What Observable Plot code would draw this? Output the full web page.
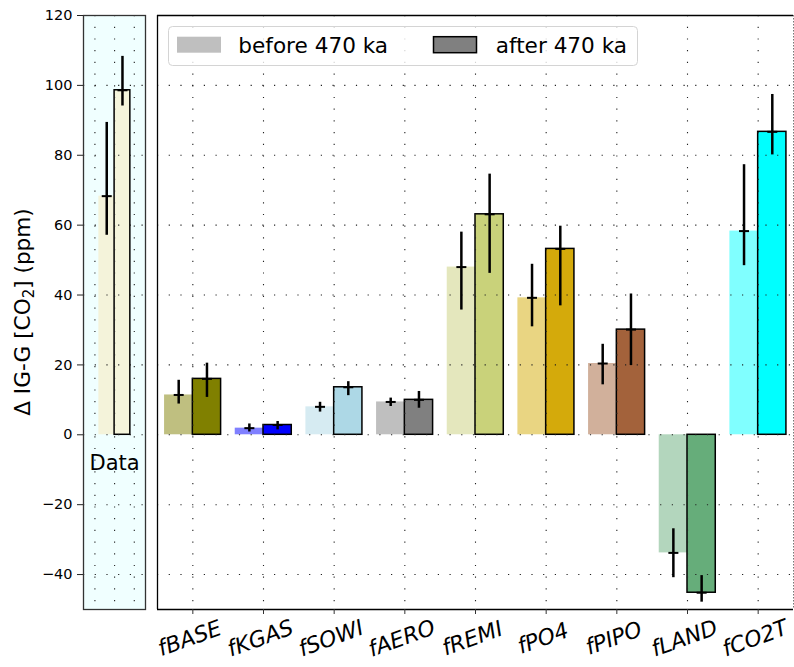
<!DOCTYPE html>
<html>
<head>
<meta charset="utf-8">
<script src="https://cdn.jsdelivr.net/npm/d3@7"></script>
<script src="https://cdn.jsdelivr.net/npm/@observablehq/plot@0.6"></script>
<style>
  html, body { margin: 0; padding: 0; background: #fff; }
  #chart { position: relative; width: 794px; height: 667px; font-family: "DejaVu Sans", sans-serif; }
  #chart svg { position: absolute; top: 0; }
</style>
</head>
<body>
<div id="chart"></div>
<script>
// Glacial-interglacial CO2 change: reconstructed data vs. model factor contributions
const factors = ["fBASE", "fKGAS", "fSOWI", "fAERO", "fREMI", "fPO4", "fPIPO", "fLAND", "fCO2T"];
const seriesNames = ["before 470 ka", "after 470 ka"];

const beforeValue = [11.4, 1.9, 8.0, 9.4, 48.0, 39.2, 20.4, -33.8, 58.3];
const beforeLow   = [8.8, 0.8, 6.5, 8.1, 35.7, 30.9, 14.3, -40.9, 48.4];
const beforeHigh  = [15.6, 3.1, 9.3, 10.5, 58.0, 48.8, 25.9, -26.9, 77.3];

const afterValue = [16.0, 2.8, 13.6, 10.0, 63.1, 53.2, 30.1, -45.2, 86.7];
const afterLow   = [10.7, 1.4, 11.2, 7.6, 46.2, 36.9, 19.8, -47.9, 80.1];
const afterHigh  = [20.5, 3.8, 15.2, 12.4, 74.6, 59.7, 40.3, -40.3, 97.4];

const beforeColors = ["#bfbf80", "#8080ff", "#d6ebf2", "#bfbfbf", "#e4e7bd", "#e9d582", "#d1b09b", "#b3d6bd", "#80ffff"];
const afterColors  = ["#808000", "#0000ff", "#add8e6", "#808080", "#c9d27a", "#d4aa0b", "#a3623b", "#66ad7a", "#00ffff"];

// Reconstructed (ice core) values
const dataLabel = "Data";
const dataValue = [68.3, 98.6];
const dataLow   = [57.1, 94.1];
const dataHigh  = [89.4, 108.3];
const dataColors = ["#f4f3da", "#f5f5dc"];

const yTicks = [-40, -20, 0, 20, 40, 60, 80, 100, 120];
const yDomain = [-50, 120];

const fmt = d => (d < 0 ? "\u2212" + Math.abs(d) : String(d));
const H = 667, MT = 15, MB = 58;
const gridStyle = {stroke: "#222", strokeOpacity: 1, strokeWidth: 1.1, strokeDasharray: "1.2,10.5"};

// horizontal mean marker drawn as a short line symbol
const hline = {
  draw(ctx, size) {
    const w = Math.sqrt(size / Math.PI);
    ctx.moveTo(-w, 0);
    ctx.lineTo(w, 0);
  }
};

// --- rows -------------------------------------------------------------
const rows = [];
factors.forEach((f, i) => {
  rows.push({i, pos: i - 0.2, value: beforeValue[i], lo: beforeLow[i], hi: beforeHigh[i], fill: beforeColors[i], edge: false});
  rows.push({i, pos: i + 0.2, value: afterValue[i], lo: afterLow[i], hi: afterHigh[i], fill: afterColors[i], edge: true});
});
const dataRows = dataValue.map((v, k) => ({pos: k === 0 ? -0.4 : 0.4, value: v, lo: dataLow[k], hi: dataHigh[k], fill: dataColors[k], edge: k === 1}));

// --- left panel: data --------------------------------------------------
const left = Plot.plot({
  width: 150, height: H,
  marginLeft: 83, marginRight: 5, marginTop: MT, marginBottom: MB,
  x: {domain: [-1.58, 1.57], axis: null},
  y: {domain: yDomain},
  style: {background: "transparent", fontFamily: "DejaVu Sans", fontSize: "14.5px", color: "#000", overflow: "visible"},
  marks: [
    Plot.frame({fill: "#f0ffff", stroke: null}),
    Plot.rect(dataRows, {x1: d => d.pos - 0.4, x2: d => d.pos + 0.4, y1: () => 0, y2: "value", fill: "fill",
      stroke: d => d.edge ? "#000" : "none", strokeWidth: 1.5}),
    Plot.gridX({ticks: [-1, 0, 1], ...gridStyle}),
    Plot.gridY({ticks: yTicks, ...gridStyle}),
    Plot.ruleX(dataRows, {x: "pos", y1: "lo", y2: "hi", stroke: "#000", strokeWidth: 2.5}),
    Plot.dot(dataRows, {x: "pos", y: "value", symbol: hline, r: 5, stroke: "#000", strokeWidth: 2, fill: "none"}),
    Plot.text([dataLabel], {x: () => 0, y: () => 0, dy: 28, fontSize: 21, fill: "#000"}),
    Plot.frame({stroke: "#333", strokeWidth: 1.3}),
    Plot.axisY({ticks: yTicks, tickFormat: fmt, tickSize: 6, tickPadding: 5, label: null, stroke: "#222"})
  ]
});

// y-axis title with subscript
const ly = d3.select(left).append("text")
  .attr("transform", `translate(30,${(MT + H - MB) / 2}) rotate(-90)`)
  .attr("text-anchor", "middle")
  .attr("font-size", 21.6)
  .attr("fill", "#000");
ly.append("tspan").text("\u0394 IG-G [CO");
ly.append("tspan").attr("font-size", 15).attr("dy", 4).text("2");
ly.append("tspan").attr("dy", -4).text("] (ppm)");

// --- right panel: model factors ---------------------------------------
const idx = factors.map((_, i) => i);
const right = Plot.plot({
  width: 644, height: H,
  marginLeft: 7, marginRight: 1, marginTop: MT, marginBottom: MB,
  x: {domain: [-0.5, factors.length - 0.5], axis: null},
  y: {domain: yDomain, axis: null},
  style: {background: "transparent", fontFamily: "DejaVu Sans", fontSize: "14.5px", color: "#000", overflow: "visible"},
  marks: [
    Plot.rect(rows, {x1: d => d.pos - 0.2, x2: d => d.pos + 0.2, y1: () => 0, y2: "value", fill: "fill",
      stroke: d => d.edge ? "#000" : "none", strokeWidth: 1.5}),
    Plot.gridX({ticks: idx, ...gridStyle}),
    Plot.gridY({ticks: yTicks, ...gridStyle}),
    Plot.ruleX(rows, {x: "pos", y1: "lo", y2: "hi", stroke: "#000", strokeWidth: 2.5}),
    Plot.dot(rows, {x: "pos", y: "value", symbol: hline, r: 5, stroke: "#000", strokeWidth: 2, fill: "none"}),
    Plot.ruleY([yDomain[1]], {stroke: "#000", strokeWidth: 1.3}),
    Plot.ruleY([yDomain[0]], {stroke: "#000", strokeWidth: 1.3}),
    Plot.ruleX([-0.5], {stroke: "#000", strokeWidth: 1.3}),
    Plot.ruleX([factors.length - 0.5], {stroke: "#777", strokeWidth: 1, strokeDasharray: "1.5,1.5"}),
    Plot.axisX({ticks: idx, tickFormat: () => "", tickSize: 5, stroke: "#333", label: null}),
    Plot.text(factors, {x: (d, i) => i, frameAnchor: "bottom", dy: 29, dx: -3, rotate: -20,
      textAnchor: "middle", lineAnchor: "middle", fontSize: 22, fontStyle: "italic", fill: "#000"})
  ]
});

// legend
const lg = d3.select(right).append("g").attr("text-anchor", "start");
lg.append("rect").attr("x", 18.5).attr("y", 26.5).attr("width", 469).attr("height", 39).attr("rx", 4)
  .attr("fill", "#fff").attr("fill-opacity", 0.8).attr("stroke", "#d4d4d4").attr("stroke-width", 1);
lg.append("rect").attr("x", 27).attr("y", 36.7).attr("width", 44).attr("height", 16).attr("fill", "#bfbfbf");
lg.append("text").attr("x", 88.3).attr("y", 52.5).attr("font-size", 21.6).attr("text-anchor", "start")
  .attr("fill", "#000").text(seriesNames[0]);
lg.append("rect").attr("x", 283.5).attr("y", 36.7).attr("width", 43).attr("height", 16)
  .attr("fill", "#808080").attr("stroke", "#000").attr("stroke-width", 1.5);
lg.append("text").attr("x", 345.7).attr("y", 52.5).attr("font-size", 21.6).attr("text-anchor", "start")
  .attr("fill", "#000").text(seriesNames[1]);

left.style.left = "0px";
right.style.left = "150px";
const chart = document.getElementById("chart");
chart.appendChild(left);
chart.appendChild(right);
</script>
</body>
</html>
